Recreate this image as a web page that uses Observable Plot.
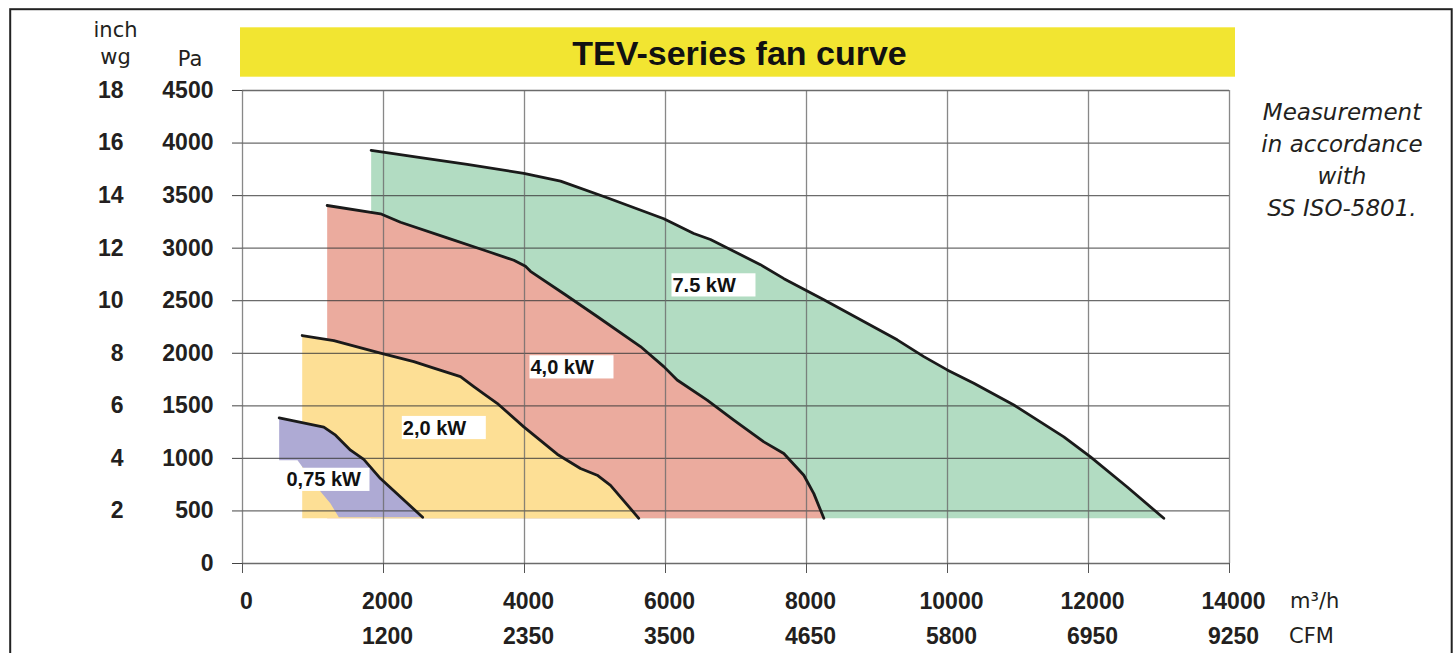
<!DOCTYPE html>
<html><head><meta charset="utf-8">
<script src="https://cdn.jsdelivr.net/npm/d3@7"></script>
<script src="https://cdn.jsdelivr.net/npm/@observablehq/plot@0.6"></script>
<style>
html,body{margin:0;padding:0;background:#fff;overflow:hidden;}
#wrap{position:relative;width:1455px;height:653px;overflow:hidden;background:#fff;}
#wrap svg{position:absolute;left:0;top:0;}
</style></head><body><div id="wrap"></div>
<script>
// ---- axis ticks / labels ----
const flowTicks = [0, 2000, 4000, 6000, 8000, 10000, 12000, 14000];      // m3/h
const cfmLabels = ["", "1200", "2350", "3500", "4650", "5800", "6950", "9250"];
const paTicks = [0, 500, 1000, 1500, 2000, 2500, 3000, 3500, 4000, 4500];
const inchLabels = ["", "2", "4", "6", "8", "10", "12", "14", "16", "18"];

// ---- series: fan curves [flow m3/h, pressure Pa] ----
const seriesNames = ["7.5 kW", "4,0 kW", "2,0 kW", "0,75 kW"];
const basePa = 430;
const curve75kW = [[1825,3931],[2525,3862],[3187,3798],[3990,3712],[4511,3638],[5173,3480],[5976,3280],[6401,3139],[6638,3082],[7347,2843],[7680,2710],[8246,2510],[9287,2128],[9664,1968],[9996,1842],[10373,1715],[10941,1508],[11650,1205],[12028,1014],[12549,728],[13068,430]];
const curve40kW = [[1201,3406],[1957,3327],[2241,3247],[2903,3098],[3471,2971],[3849,2885],[4014,2827],[4085,2780],[4580,2557],[5031,2350],[5645,2064],[5976,1873],[6165,1746],[6591,1555],[6969,1364],[7395,1157],[7678,1047],[7962,840],[8104,665],[8246,430]];
const curve20kW = [[847,2169],[1296,2121],[1957,2001],[2430,1921],[2714,1858],[3092,1778],[3281,1682],[3423,1613],[3612,1524],[3990,1300],[4464,1040],[4794,904],[5031,840],[5220,744],[5621,430]];
const curve075kW = [[520,1385],[1153,1298],[1320,1221],[1532,1078],[1720,990],[1957,808],[2555,440]];
const lower075kW = [[1366,440],[1248,570],[1106,685],[780,983],[520,983]];

// label anchors [flow, Pa]
const labelFlow = [6099, 4085, 2274, 624];
const labelPa = [2645, 1865, 1288, 795];

// ---- styles ----
const fills = ["#b2dcc2", "#ebab9e", "#fddf95", "#aeaad4"];
const numFont = "'Liberation Sans', Arial, sans-serif";
const lightFont = "'DejaVu Sans', sans-serif";
const ink = "#231f20";

const curves = [curve75kW, curve40kW, curve20kW, curve075kW];
const toRows = (pts) => pts.map(([flow, pa]) => ({flow, pa}));
const polygons = curves.map((c, i) => {
  const lower = i === 3 ? lower075kW : [[c[c.length - 1][0], basePa], [c[0][0], basePa]];
  return toRows(c.concat(lower));
});
const labels = seriesNames.map((name, i) => ({name, flow: labelFlow[i], pa: labelPa[i]}));
const cfmMap = new Map(flowTicks.map((t, i) => [t, cfmLabels[i]]));
const inchMap = new Map(paTicks.map((t, i) => [t, inchLabels[i]]));

const plot = Plot.plot({
  width: 1455, height: 653,
  marginLeft: 242, marginRight: 226, marginTop: 90, marginBottom: 90,
  style: {background: "transparent", overflow: "visible"},
  x: {domain: [0, 14000], label: null},
  y: {domain: [0, 4500], label: null},
  marks: [
    ...polygons.map((p, i) => Plot.line(p, {x: "flow", y: "pa", fill: fills[i], stroke: null})),
    Plot.gridY(paTicks, {stroke: "#3a3a3a", strokeOpacity: 0.75, strokeWidth: 1.3}),
    Plot.gridX(flowTicks, {stroke: "#6a6a6a", strokeOpacity: 0.8, strokeWidth: 1.3}),
    ...curves.map(c => Plot.line(toRows(c), {x: "flow", y: "pa", stroke: "#1a1a1a", strokeWidth: 2.8, strokeLinejoin: "round"})),
    Plot.text(labels, {x: "flow", y: "pa", text: "name", textAnchor: "start", fontSize: 20, fontWeight: "bold", fontFamily: numFont, fill: "#111"}),
    Plot.axisY(paTicks, {tickSize: 10, tickPadding: 19, tickFormat: d => String(d), fontSize: 23, fontWeight: "bold", fontFamily: numFont, stroke: "#444", fill: ink, label: null}),
    Plot.axisY(paTicks, {tickSize: 0, tickPadding: 119, tickFormat: d => inchMap.get(d), fontSize: 23, fontWeight: "bold", fontFamily: numFont, fill: ink, label: null}),
    Plot.axisX(flowTicks, {tickSize: 10, tickFormat: () => "", stroke: "#555", label: null}),
    Plot.axisX(flowTicks, {tickSize: 0, tickPadding: 29, dx: 4, tickFormat: d => String(d), fontSize: 23, fontWeight: "bold", fontFamily: numFont, fill: ink, label: null}),
    Plot.axisX(flowTicks, {tickSize: 0, tickPadding: 64, dx: 4, tickFormat: d => cfmMap.get(d), fontSize: 23, fontWeight: "bold", fontFamily: numFont, fill: ink, label: null})
  ]
});
const wrap = document.getElementById("wrap");
wrap.appendChild(plot);

// white boxes behind curve labels
d3.select(plot).selectAll('g[aria-label="text"] text').each(function() {
  const b = this.getBBox();
  d3.select(this.parentNode).insert("rect", () => this)
    .attr("transform", this.getAttribute("transform"))
    .attr("x", b.x - 1).attr("y", b.y - 0.6)
    .attr("width", 84).attr("height", b.height + 1.2)
    .attr("fill", "#fff");
});

// decorations: frame, title bar, unit headers, note
const deco = d3.create("svg").attr("width", 1455).attr("height", 653)
  .style("pointer-events", "none");
deco.append("rect").attr("x", 10.2).attr("y", 9.2).attr("width", 1441.5).attr("height", 700)
  .attr("fill", "none").attr("stroke", "#222").attr("stroke-width", 2);
deco.append("rect").attr("x", 240).attr("y", 27.3).attr("width", 995).attr("height", 49.4).attr("fill", "#f2e531");
deco.append("text").attr("x", 739.5).attr("y", 65).attr("text-anchor", "middle")
  .attr("font-family", numFont).attr("font-weight", "bold").attr("font-size", 34).attr("fill", "#111")
  .text("TEV-series fan curve");
const hdr = (t, x, y, anchor) => deco.append("text").attr("x", x).attr("y", y).attr("text-anchor", anchor)
  .attr("font-family", lightFont).attr("font-size", 21).attr("fill", ink).text(t);
hdr("inch", 115.5, 37.3, "middle");
hdr("wg", 115.5, 64, "middle");
hdr("Pa", 190, 66, "middle");
hdr("m³/h", 1290, 608, "start");
hdr("CFM", 1289, 643, "start");
const noteLines = ["Measurement", "in accordance", "with", "SS ISO-5801."];
noteLines.forEach((t, i) => deco.append("text").attr("x", 1342).attr("y", 119.5 + 32.2 * i)
  .attr("text-anchor", "middle").attr("font-family", lightFont).attr("font-style", "italic")
  .attr("font-size", 23).attr("fill", ink).text(t));
wrap.appendChild(deco.node());
</script></body></html>
